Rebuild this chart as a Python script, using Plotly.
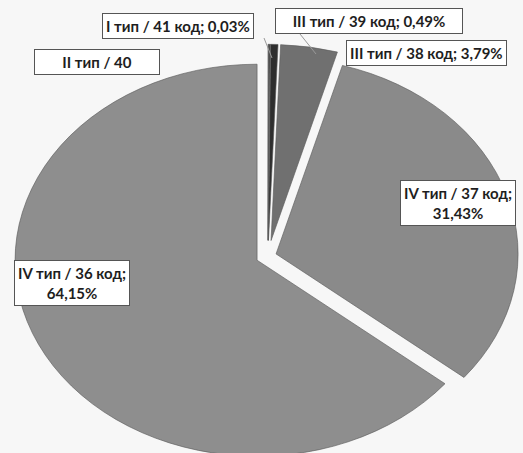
import plotly.graph_objects as go

# Distribution of pigs by type / code (share of total, %)
types = ["I тип", "II тип", "III тип", "III тип", "IV тип", "IV тип"]
codes = ["41", "40", "39", "38", "37", "36"]
shares = [0.03, 0.11, 0.49, 3.79, 31.43, 64.15]
colors = ["#bdbdbd", "#4a4a4a", "#2e2e2e", "#707070", "#8a8a8a", "#8e8e8e"]
pulls = [0.08, 0.08, 0.08, 0.08, 0.035, 0.05]


def fmt(v):
    return f"{v:.2f}".replace(".", ",") + "%"


labels = [f"{t} / {c} код" for t, c in zip(types, codes)]

fig = go.Figure(
    go.Pie(
        labels=labels,
        values=shares,
        sort=False,
        direction="clockwise",
        rotation=0,
        pull=pulls,
        marker=dict(colors=colors, line=dict(color="#5a5a5a", width=0.6)),
        textinfo="none",
        hoverinfo="label+percent",
        showlegend=False,
    )
)

W, H = 523, 453

# label boxes: (text, centre x px, centre y px, fixed box width or None)
box_text = [
    f"{labels[0]}; {fmt(shares[0])}",
    f"{types[1]} / {codes[1]}",
    f"{labels[2]}; {fmt(shares[2])}",
    f"{labels[3]}; {fmt(shares[3])}",
    f"{labels[4]};<br>{fmt(shares[4])}",
    f"{labels[5]};<br>{fmt(shares[5])}",
]
box_pos = [(178, 26), (97, 62), (369, 21), (426, 53), (458, 203), (72, 283)]
box_w = [None, 118, 180, None, None, None]

for txt, (px, py), bw in zip(box_text, box_pos, box_w):
    fig.add_annotation(
        x=px / W, y=1 - py / H, xref="paper", yref="paper",
        xanchor="center", yanchor="middle",
        text=f"<b>{txt}</b>", showarrow=False,
        font=dict(family="Lato", size=15, color="#1e1e1e"),
        bgcolor="#ffffff", bordercolor="#555555", borderwidth=1, borderpad=3,
        align="center", width=bw,
    )

# leader lines from the small-slice labels
for (x0, y0, x1, y1) in [(264, 38, 272, 58), (300, 34, 316, 54)]:
    fig.add_shape(type="line", xref="paper", yref="paper",
                  x0=x0 / W, y0=1 - y0 / H, x1=x1 / W, y1=1 - y1 / H,
                  line=dict(color="#9a9a9a", width=1))

fig.update_layout(
    width=W, height=H,
    margin=dict(l=0, r=0, t=0, b=0),
    paper_bgcolor="#f7f7f7",
    plot_bgcolor="#f7f7f7",
)

# tilt the pie into an ellipse (perspective view)
stretch_js = """
var gd = document.getElementById('{plot_id}');
var cd = gd.calcdata[0][0];
var sx = 242 / cd.r, sy = 196 / cd.r;
var layer = gd.querySelector('.pielayer');
layer.setAttribute('transform',
  'translate(268,256) scale(' + sx + ',' + sy + ') translate(' + (-cd.cx) + ',' + (-cd.cy) + ')');
"""

fig.write_html("out.html", post_script=stretch_js)
